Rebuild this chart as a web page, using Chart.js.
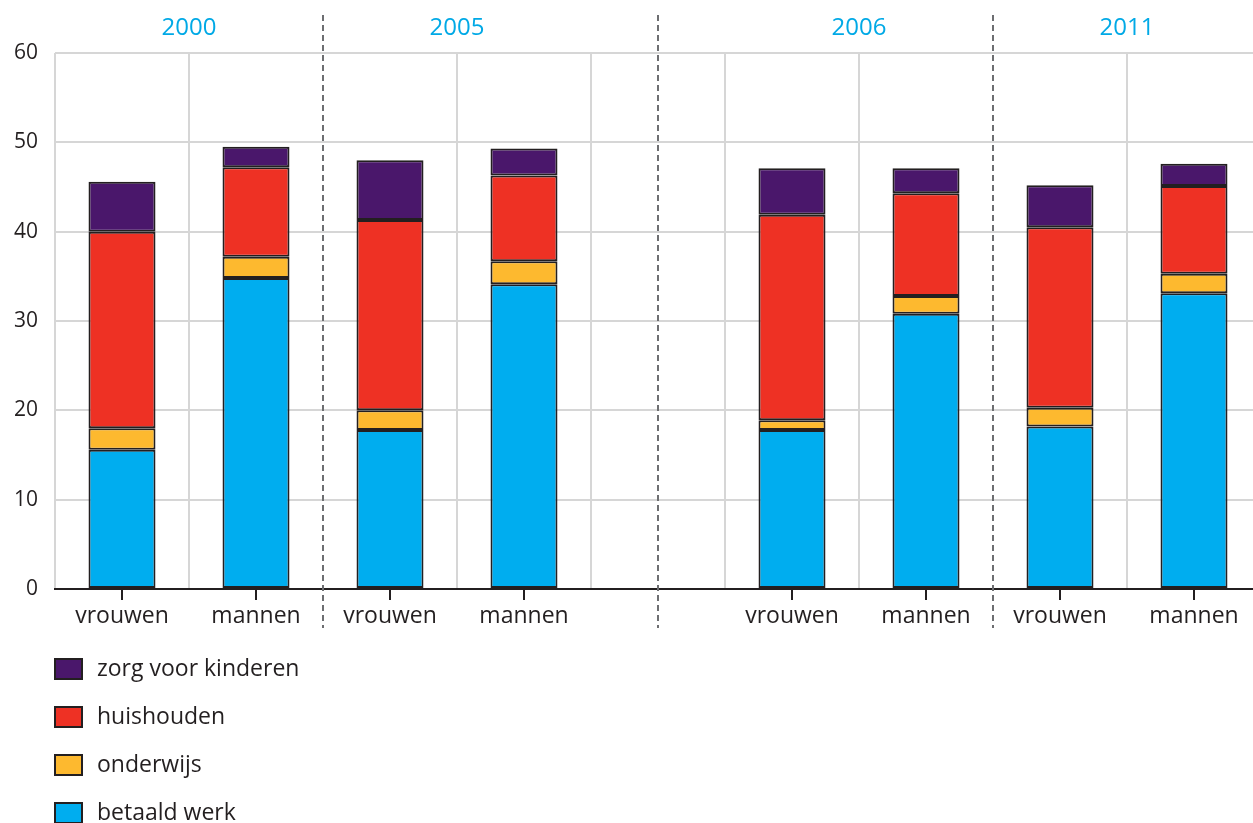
<!DOCTYPE html>
<html>
<head>
<meta charset="utf-8">
<script src="https://cdn.jsdelivr.net/npm/chart.js@4/dist/chart.umd.min.js"></script>
<style>
    html,body{ margin:0; padding:0; background:#fff; overflow:hidden; }
</style>
</head>
<body>
<canvas id="grafico" width="1270" height="823"></canvas>
<script>

// =====================================
// DADOS
// =====================================

const categorias = [
    "vrouwen","mannen","vrouwen","mannen","",
    "vrouwen","mannen","vrouwen","mannen"
];

const jaren = ["2000","2005","2006","2011"];
const jaarStart = [0,2,5,7];

const betaaldWerk   = [15.6,34.8,17.8,34.1,null,17.8,30.8,18.2,33.1];
const onderwijs     = [ 2.4, 2.4, 2.2, 2.6,null, 1.1, 2.0, 2.1, 2.2];
const huishouden    = [22.0,10.0,21.3, 9.6,null,23.0,11.5,20.2, 9.8];
const zorgKinderen  = [ 5.6, 2.3, 6.7, 3.0,null, 5.2, 2.8, 4.7, 2.5];

const yTicks = [0,10,20,30,40,50,60];

const FONTE = "'Open Sans', 'Noto Sans', sans-serif";
const TEKST = "#231f20";


// =====================================
// PLUGIN: jaren, stippellijnen, ticks, legenda
// =====================================

const extras = {

    id:"extras",

    afterDraw(chart){

        const ctx = chart.ctx;
        const x = chart.scales.x;
        const y = chart.scales.y;
        const half = (x.getPixelForValue(1) - x.getPixelForValue(0)) / 2;

        ctx.save();

        // tick marks onder de as
        ctx.strokeStyle = TEKST;
        ctx.lineWidth = 2;
        categorias.forEach((c,i)=>{
            if(!c) return;
            const px = Math.round(x.getPixelForValue(i));
            ctx.beginPath();
            ctx.moveTo(px, y.bottom);
            ctx.lineTo(px, y.bottom + 11);
            ctx.stroke();
        });

        // stippellijnen
        const stippel = [
            x.getPixelForValue(1) + half,
            x.getPixelForValue(4),
            x.getPixelForValue(6) + half
        ];
        ctx.strokeStyle = "#6d6e71";
        ctx.lineWidth = 2;
        ctx.setLineDash([6,4]);
        stippel.forEach(px=>{
            ctx.beginPath();
            ctx.moveTo(Math.round(px), 15);
            ctx.lineTo(Math.round(px), 628);
            ctx.stroke();
        });
        ctx.setLineDash([]);

        // jaren
        ctx.fillStyle = "#00a9e6";
        ctx.font = "24px " + FONTE;
        ctx.textAlign = "center";
        ctx.textBaseline = "middle";
        jaren.forEach((j,k)=>{
            const px = x.getPixelForValue(jaarStart[k]) + half;
            ctx.fillText(j, px, 28);
        });

        // legenda
        const items = chart.data.datasets.slice().reverse();
        ctx.font = "23px " + FONTE;
        ctx.textAlign = "left";
        items.forEach((ds,k)=>{
            const cy = 669 + k*48;
            ctx.fillStyle = ds.backgroundColor;
            ctx.fillRect(55, cy-10, 27, 20);
            ctx.strokeStyle = TEKST;
            ctx.lineWidth = 2;
            ctx.strokeRect(55, cy-10, 27, 20);
            ctx.fillStyle = TEKST;
            ctx.fillText(ds.label, 97, cy);
        });

        ctx.restore();

    }

};


// =====================================
// GRAFIEK
// =====================================

function serie(label, data, kleur){
    return {
        label,
        data,
        backgroundColor:kleur,
        borderColor:TEKST,
        borderWidth:2,
        borderSkipped:false,
        barPercentage:0.5,
        categoryPercentage:1
    };
}

new Chart(document.getElementById("grafico"),{

    type:"bar",

    data:{

        labels:categorias,

        datasets:[
            serie("betaald werk", betaaldWerk, "#00adef"),
            serie("onderwijs", onderwijs, "#fdb92f"),
            serie("huishouden", huishouden, "#ee3124"),
            serie("zorg voor kinderen", zorgKinderen, "#4a176b")
        ]

    },

    options:{

        responsive:false,
        animation:false,
        devicePixelRatio:1,

        layout:{
            padding:{ top:53, right:9, left:0, bottom:0 }
        },

        plugins:{
            legend:{ display:false },
            tooltip:{ enabled:false }
        },

        scales:{

            x:{
                stacked:true,
                afterFit(scale){ scale.height = 234; },
                grid:{
                    offset:true,
                    drawTicks:false,
                    lineWidth:2,
                    color:(c)=> (c.index===2 || c.index===7) ? "rgba(0,0,0,0)" : "#d6d6d6"
                },
                border:{ display:true, color:TEKST, width:2 },
                ticks:{
                    padding:14,
                    color:TEKST,
                    font:{ family:FONTE, size:23 }
                }
            },

            y:{
                stacked:true,
                min:0,
                max:60,
                afterFit(scale){ scale.width = 55; },
                afterBuildTicks(scale){
                    scale.ticks = yTicks.map(v=>({ value:v }));
                },
                grid:{
                    drawTicks:false,
                    lineWidth:2,
                    color:"#d6d6d6"
                },
                border:{ display:false },
                ticks:{
                    padding:17,
                    color:TEKST,
                    font:{ family:FONTE, size:21 }
                }
            }

        }

    },

    plugins:[extras]

});

</script>
</body>
</html>
